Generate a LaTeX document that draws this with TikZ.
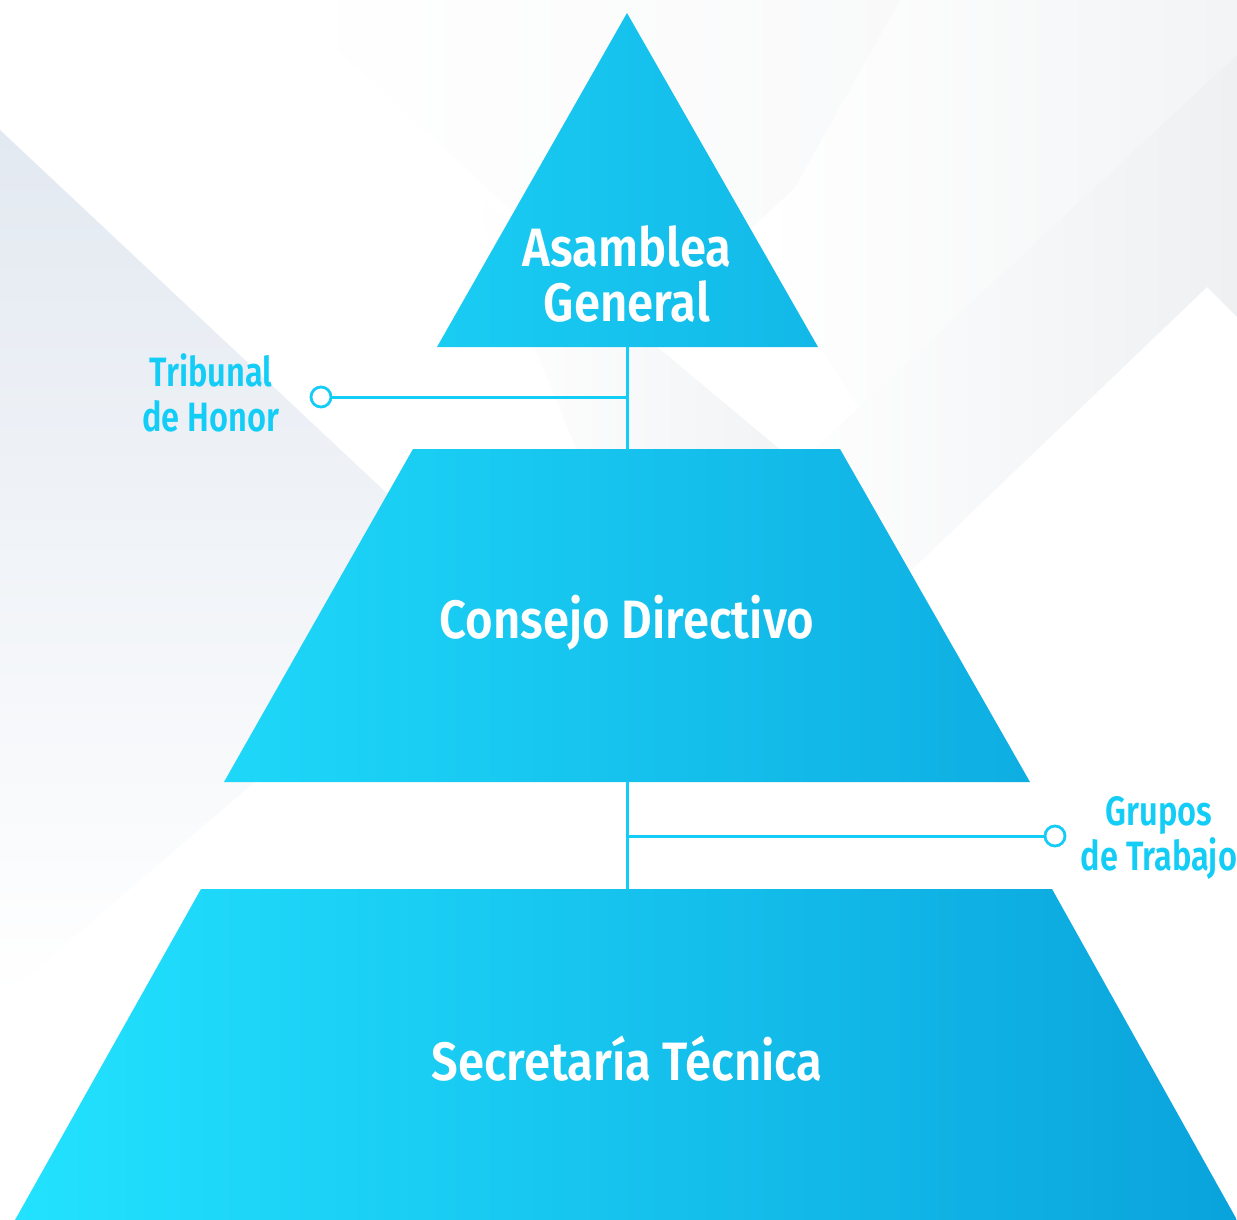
\documentclass[tikz,border=0pt]{standalone}
\usepackage{fontspec}
\setmainfont{Fira Sans}[BoldFont={Fira Sans SemiBold}]
\newfontfamily\levelfont{Fira Sans SemiBold}[FakeStretch=0.875]
\newfontfamily\sidefont{Fira Sans SemiBold}[FakeStretch=0.795]
\usetikzlibrary{positioning,calc}

\definecolor{cyanL}{HTML}{22E3FF}
\definecolor{cyanR}{HTML}{0AA3DC}
\definecolor{linkcol}{HTML}{14CDF6}
\definecolor{bggrey}{HTML}{E3E9F1}
\definecolor{bgsoft}{HTML}{EEF0F2}

\tikzset{
  level/.style={font=\levelfont\fontsize{27}{27.5}\selectfont, text=white, align=center},
  side/.style={font=\sidefont\fontsize{20.5}{22.5}\selectfont, text=linkcol, align=center},
  link/.style={draw=linkcol, line width=1.5pt},
  dot/.style={circle, draw=linkcol, fill=white, line width=1.4pt, minimum size=10pt, inner sep=0pt}
}

\begin{document}
\begin{tikzpicture}[x=0.5pt,y=-0.5pt]
    \useasboundingbox (0,0) rectangle (1237,1220);
    % Background
    \fill[white] (0,0) rectangle (1237,1220);
    \shade[top color=bggrey, bottom color=white] (0,130) -- (410,515) -- (280,760) -- (0,1000) -- cycle;
    \shade[left color=white, right color=bgsoft!45] (285,0) -- (1000,0) -- (640,330) -- cycle;
    \shade[left color=white, right color=bgsoft!80] (470,190) -- (790,458) -- (580,458) -- cycle;
    \shade[left color=white, right color=bgsoft!75] (900,0) -- (1237,0) -- (1237,55) -- (860,410) -- (760,250) -- cycle;
    \shade[left color=white, right color=bgsoft] (1237,55) -- (760,500) -- (880,600) -- (1207,287) -- (1237,317) -- cycle;
    % Pyramid
    \begin{scope}
        \clip (627,13) -- (818,347) -- (437,347) -- cycle
              (413,449) -- (840,449) -- (1030,782) -- (224,782) -- cycle
              (201,889) -- (1052,889) -- (1237,1220) -- (15,1220) -- cycle;
        \shade[left color=cyanL, right color=cyanR] (0,0) rectangle (1237,1220);
    \end{scope}
    % Levels
    \node[level] (asamblea) at (627,274) {Asamblea\\General};
    \node[level] (consejo) at (627,623) {Consejo Directivo};
    \node[level] (secretaria) at (627,1059) {Secretaría Técnica};
    \coordinate (ag-base) at (627,347);
    \coordinate (cd-top) at (627,449);
    \coordinate (cd-base) at (627,782);
    \coordinate (st-top) at (627,889);
    % Links
    \draw[link] (ag-base) -- (cd-top);
    \draw[link] (cd-base) -- (st-top);
    \coordinate (j-tdh) at (627,397);
    \coordinate (j-gdt) at (627,836);
    \node[dot] (tdh-dot) at (321,397) {};
    \node[dot] (gdt-dot) at (1055,836) {};
    \draw[link] (j-tdh) -- (tdh-dot);
    \draw[link] (j-gdt) -- (gdt-dot);
    % Side bodies
    \node[side] (tribunal) at (211,393) {Tribunal\\de Honor};
    \node[side] (grupos) at (1159,838) {Grupos\\de Trabajo};
\end{tikzpicture}
\end{document}
